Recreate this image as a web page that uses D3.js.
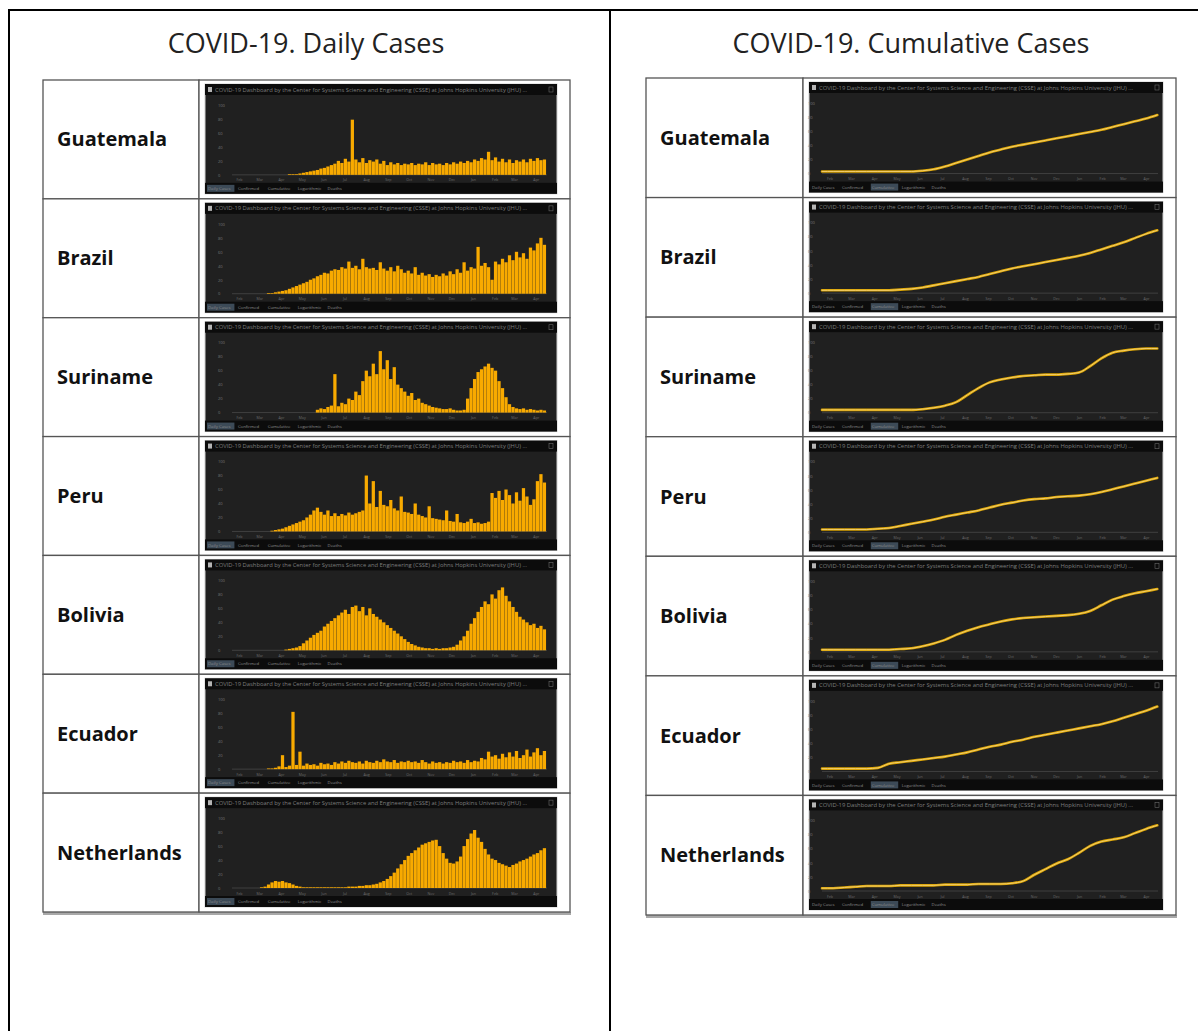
<!DOCTYPE html>
<html>
<head>
<meta charset="utf-8">
<script src="https://cdn.jsdelivr.net/npm/d3@7"></script>
<style>
  body { margin: 0; background: white; }
  svg { display: block; }
</style>
</head>
<body>
<div id="chart"></div>
<script>
const countries = ["Guatemala", "Brazil", "Suriname", "Peru", "Bolivia", "Ecuador", "Netherlands"];
const panel_titles = ["COVID-19. Daily Cases", "COVID-19. Cumulative Cases"];
const dashboard_title = "COVID-19 Dashboard by the Center for Systems Science and Engineering (CSSE) at Johns Hopkins University (JHU)";
const tab_labels = ["Daily Cases", "Confirmed", "Cumulative", "Logarithmic", "Deaths"];
const y_ticks = [0, 20, 40, 60, 80, 100];

// daily cases, one bar per 5 days from 22 Jan 2020, in % of the y axis top
const daily_guatemala = [0,0,0,0,0,0,0,0,0,0, 0,0,0,0,0,0,1,1,1,2, 3,4,5,6,7,9,10,12,14,16, 20,17,23,19,79,22,18,24,17,21, 19,22,16,20,14,18,15,17,14,16, 15,17,14,16,15,18,14,17,15,16, 14,17,15,18,16,19,17,20,18,22, 20,24,22,33,21,25,19,23,18,22, 17,21,19,22,18,23,20,24,21,22];
const daily_brazil = [0,0,0,0,0,0,0,0,0,0, 1,1,2,3,4,5,7,9,11,13, 15,17,20,22,25,27,30,29,33,35, 34,38,36,46,37,40,35,50,38,36, 37,34,45,36,33,38,32,40,35,30, 33,29,38,27,30,26,28,24,27,25, 29,26,32,28,35,30,45,33,38,36, 67,40,44,38,20,46,42,50,45,55, 48,60,52,58,50,66,62,72,80,70];
const daily_suriname = [0,0,0,0,0,0,0,0,0,0, 0,0,0,0,0,0,0,0,0,0, 0,0,0,0,4,6,5,8,10,55, 9,14,12,20,18,30,25,45,60,52, 70,55,88,62,75,48,65,40,35,30, 24,28,18,20,14,12,10,8,7,6, 5,5,6,4,3,3,4,20,35,48, 58,62,66,70,64,60,45,35,22,12, 8,6,5,6,4,5,4,3,4,3];
const daily_peru = [0,0,0,0,0,0,0,0,0,0, 0,1,2,3,4,6,8,10,12,14, 16,20,24,30,34,28,24,30,22,26, 22,25,23,27,24,26,28,30,80,40, 72,35,58,38,36,45,33,30,50,28, 27,25,40,24,22,20,36,19,18,17, 16,30,15,14,25,13,12,14,18,12, 13,11,12,14,55,48,58,45,60,52, 40,56,44,62,50,38,46,72,82,70];
const daily_bolivia = [0,0,0,0,0,0,0,0,0,0, 0,0,0,0,0,1,2,3,4,6, 10,14,18,22,25,28,34,38,42,46, 50,54,58,52,62,64,56,62,50,60, 52,48,44,40,36,32,28,24,20,16, 12,9,7,5,4,3,3,2,3,2, 3,3,4,5,8,14,20,28,38,46, 55,62,70,66,80,74,86,90,78,70, 62,55,48,44,40,36,38,32,35,30];
const daily_ecuador = [0,0,0,0,0,0,0,0,0,0, 1,1,2,4,20,3,5,82,6,25, 5,8,6,7,5,9,7,8,6,10, 8,11,9,12,10,9,11,8,12,10, 9,12,10,14,11,10,13,9,11,10, 12,10,11,9,13,10,8,11,9,10, 8,10,9,12,10,11,9,13,10,12, 11,16,14,25,18,20,15,22,17,24, 18,26,16,20,28,18,24,30,20,26];
const daily_netherlands = [0,0,0,0,0,0,0,0,1,2, 5,8,10,9,10,8,7,5,3,2, 1,1,1,1,1,1,1,1,1,1, 1,1,1,2,2,2,3,3,4,4, 5,6,8,10,13,17,22,28,34,40, 46,50,54,58,62,64,66,68,69,60, 50,42,36,35,38,45,60,70,78,83, 72,66,56,48,42,40,36,34,32,30, 33,35,38,40,42,45,48,50,54,57];

// cumulative cases, one point per 15 days from 22 Jan 2020, in % of the y axis top
const cumulative_guatemala = [3,3,3,3,3,3,3,3,3,4, 6,10,15,20,25,30,34,38,41,44, 47,50,53,56,59,62,66,70,74,78, 83];
const cumulative_brazil = [4,4,4,4,4,4,4,5,6,8, 11,14,17,20,23,27,31,35,38,41, 44,47,50,53,57,62,67,72,78,84, 89];
const cumulative_suriname = [4,4,4,4,4,4,4,4,4,5, 7,10,15,25,35,43,47,50,52,53, 54,54,55,57,66,77,85,88,90,91, 91];
const cumulative_peru = [4,4,4,4,4,5,6,9,12,15, 18,22,25,28,31,35,39,42,45,47, 48,50,51,52,54,57,61,65,69,73, 77];
const cumulative_bolivia = [3,3,3,3,3,3,3,4,5,8, 12,17,24,30,35,39,43,46,48,49, 50,51,52,54,58,66,74,79,83,86, 89];
const cumulative_ecuador = [4,4,4,4,4,5,11,13,15,17, 19,21,24,27,31,35,38,42,45,49, 52,55,58,61,64,67,71,76,81,86, 92];
const cumulative_netherlands = [4,4,5,6,7,7,7,8,8,8, 8,9,9,9,10,10,10,11,14,23, 31,39,45,54,64,70,73,76,82,88, 93];

const daily_series = [daily_guatemala, daily_brazil, daily_suriname, daily_peru, daily_bolivia, daily_ecuador, daily_netherlands];
const cumulative_series = [cumulative_guatemala, cumulative_brazil, cumulative_suriname, cumulative_peru, cumulative_bolivia, cumulative_ecuador, cumulative_netherlands];

const start_date = new Date(2020, 0, 22);
const end_date = new Date(2021, 3, 17);
const daily_step = 5;
const cumulative_step = 15;

const bar_color = "#f8aa00";
const line_color = "#dca400";

class Thumb {
  constructor(g, width, height, kind) {
    this.g = g;
    this.width = width;
    this.height = height;
    this.kind = kind;
    this.bar_h = 11;
    this.plot_left = kind === "daily" ? 27 : 13;
    this.plot_right = kind === "daily" ? width - 10 : width - 5;
    this.baseline = height - 19;

    this.x = d3.scaleTime()
      .domain([start_date, end_date])
      .range([this.plot_left, this.plot_right]);
    this.y = d3.scaleLinear()
      .domain([0, 100])
      .range([this.baseline, 21]);
  }

  draw(values) {
    this.drawChrome();
    this.drawAxes();
    if (this.kind === "daily") this.drawBars(values);
    else this.drawLine(values);
  }

  drawChrome() {
    const w = this.width, h = this.height, g = this.g;
    g.append("rect")
      .attr("width", w).attr("height", h)
      .attr("fill", "#202020")
      .attr("stroke", "#cfcfcf")
      .attr("stroke-width", 1);

    g.append("rect").attr("width", w).attr("height", this.bar_h).attr("fill", "#0c0c0c");
    g.append("rect").attr("x", 3).attr("y", 3).attr("width", 4).attr("height", 5).attr("fill", "#b5b5b5");
    g.append("text")
      .attr("x", 10).attr("y", 7.6)
      .attr("textLength", w - 40)
      .attr("lengthAdjust", "spacingAndGlyphs")
      .style("font", "5px 'Open Sans', sans-serif")
      .attr("fill", "#7d7d7d")
      .text(dashboard_title + " ...");
    g.append("rect").attr("x", w - 8).attr("y", 3).attr("width", 4).attr("height", 5)
      .attr("fill", "none").attr("stroke", "#6a6a6a").attr("stroke-width", 0.6);

    g.append("rect").attr("y", h - this.bar_h).attr("width", w).attr("height", this.bar_h).attr("fill", "#0c0c0c");

    const tabs = d3.scaleBand().domain(tab_labels).range([3, 148]).paddingInner(0.15);
    const active = this.kind === "daily" ? tab_labels[0] : tab_labels[2];
    g.append("rect")
      .attr("x", tabs(active) - 1).attr("y", h - this.bar_h + 2)
      .attr("width", tabs.bandwidth() + 2).attr("height", this.bar_h - 4)
      .attr("fill", "#3c4a57");
    g.selectAll("text.tab").data(tab_labels).join("text")
      .classed("tab", true)
      .attr("x", d => tabs(d))
      .attr("y", h - 3.8)
      .style("font", "4.3px 'Open Sans', sans-serif")
      .attr("fill", "#8c8c8c")
      .text(d => d);
  }

  drawAxes() {
    const g = this.g;
    const ya = g.append("g")
      .attr("transform", `translate(${this.plot_left - 14},0)`)
      .call(d3.axisLeft(this.y).tickValues(y_ticks).tickSize(0).tickPadding(0));
    ya.select(".domain").remove();
    ya.selectAll("text").style("font", "4px 'Open Sans', sans-serif").attr("fill", "#777").attr("text-anchor", "start").attr("x", 0);

    const xa = g.append("g")
      .attr("transform", `translate(0,${this.baseline + 2})`)
      .call(d3.axisBottom(this.x).ticks(d3.timeMonth.every(1)).tickFormat(d3.timeFormat("%b")).tickSize(0).tickPadding(2));
    xa.select(".domain").remove();
    xa.selectAll("text").style("font", "3.6px 'Open Sans', sans-serif").attr("fill", "#6b6b6b");

    g.append("line")
      .attr("x1", this.plot_left).attr("x2", this.plot_right)
      .attr("y1", this.baseline).attr("y2", this.baseline)
      .attr("stroke", "#555").attr("stroke-width", 0.6);
  }

  dateAt(i, step) {
    return d3.timeDay.offset(start_date, i * step);
  }

  drawBars(values) {
    const x = this.x, y = this.y;
    this.g.selectAll("rect.bar").data(values).join("rect")
      .classed("bar", true)
      .attr("x", (v, i) => x(this.dateAt(i, daily_step)))
      .attr("width", (v, i) => Math.max(0.5, x(this.dateAt(i + 1, daily_step)) - x(this.dateAt(i, daily_step)) - 0.25))
      .attr("y", v => y(v))
      .attr("height", v => y(0) - y(v))
      .attr("fill", bar_color);
  }

  drawLine(values) {
    const line = d3.line()
      .x((v, i) => this.x(this.dateAt(i, cumulative_step)))
      .y(v => this.y(v))
      .curve(d3.curveMonotoneX);
    this.g.append("path").datum(values)
      .attr("d", line).attr("fill", "none")
      .attr("stroke", line_color).attr("stroke-width", 2.6)
      .attr("stroke-linecap", "round");
    this.g.append("path").datum(values)
      .attr("d", line).attr("fill", "none")
      .attr("stroke", "#f4d37c").attr("stroke-width", 0.9)
      .attr("stroke-linecap", "round");
  }
}

const svg = d3.select("#chart").append("svg")
  .attr("width", 1198)
  .attr("height", 1031)
  .style("background-color", "white");

// page frame
svg.append("path")
  .attr("d", "M9,1031 V10 H1198 M610,10 V1031")
  .attr("fill", "none")
  .attr("stroke", "black")
  .attr("stroke-width", 2);

const panels = [
  { title: panel_titles[0], cx: 306, left: 43, right: 570, div: 199, top: 80, bottom: 912, kind: "daily", series: daily_series },
  { title: panel_titles[1], cx: 911, left: 646, right: 1176, div: 803, top: 78, bottom: 915, kind: "cumulative", series: cumulative_series }
];

panels.forEach(p => {
  svg.append("text")
    .attr("x", p.cx).attr("y", 53)
    .attr("text-anchor", "middle")
    .style("font", "27px 'Open Sans', sans-serif")
    .attr("fill", "#222")
    .text(p.title);

  const rows = d3.scaleBand().domain(countries).range([p.top, p.bottom]);
  const table = svg.append("g");

  // shadow under the table
  table.append("line")
    .attr("x1", p.left).attr("x2", p.right + 1)
    .attr("y1", p.bottom + 1.5).attr("y2", p.bottom + 1.5)
    .attr("stroke", "#a8a8a8").attr("stroke-width", 3);

  countries.forEach((name, k) => {
    const y0 = rows(name), rh = rows.bandwidth();
    table.append("rect")
      .attr("x", p.left).attr("y", y0)
      .attr("width", p.div - p.left).attr("height", rh)
      .attr("fill", "white").attr("stroke", "#555").attr("stroke-width", 1.3);
    table.append("rect")
      .attr("x", p.div).attr("y", y0)
      .attr("width", p.right - p.div).attr("height", rh)
      .attr("fill", "white").attr("stroke", "#555").attr("stroke-width", 1.3);

    table.append("text")
      .attr("x", p.left + 14).attr("y", y0 + rh / 2 + 7)
      .style("font", "bold 20px 'Open Sans', sans-serif")
      .attr("fill", "#111")
      .text(name);

    const tw = p.right - p.div - 19;
    const th = rh - 9;
    const g = table.append("g").attr("transform", `translate(${p.div + 6},${y0 + 4})`);
    new Thumb(g, tw, th, p.kind).draw(p.series[k]);
  });
});
</script>
</body>
</html>
